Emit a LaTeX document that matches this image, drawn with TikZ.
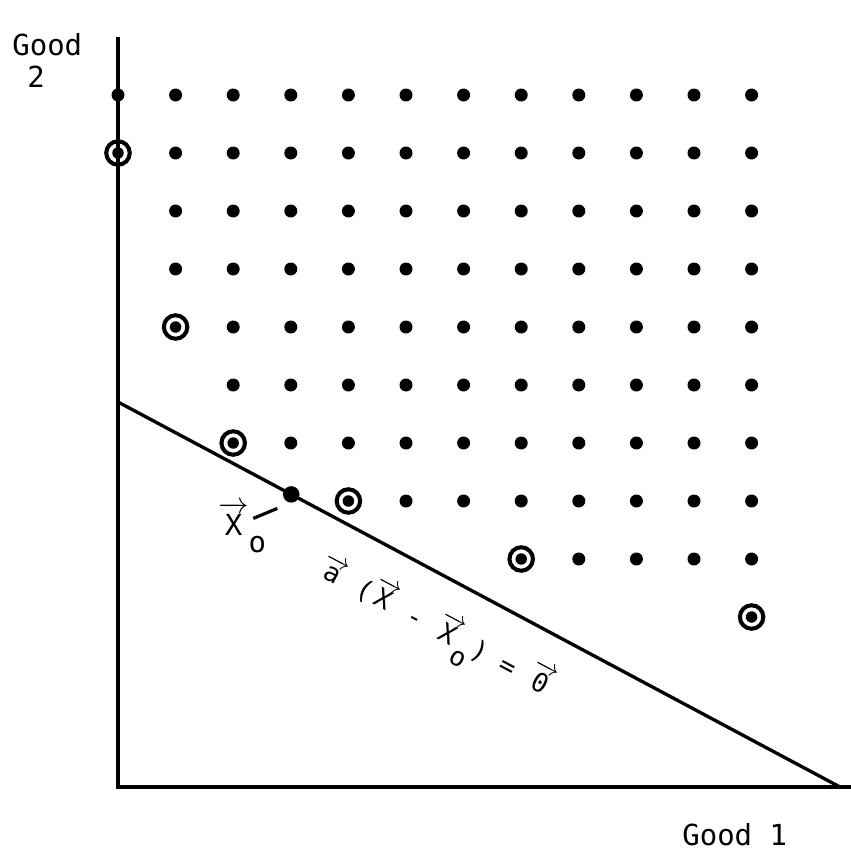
\documentclass[tikz,border=0pt]{standalone}
\usepackage{amsmath}
\usepackage{fontspec}
\setmonofont{DejaVu Sans Mono}
\usetikzlibrary{calc,positioning}
\newcommand{\tvec}[1]{\ensuremath{\overrightarrow{\hbox{\ttfamily #1}}}}

\begin{document}
\begin{tikzpicture}[x=0.02cm,y=-0.02cm,
  axis/.style={line width=2.2pt},
  budget/.style={line width=1.9pt},
  ring/.style={line width=2.3pt},
  lab/.style={font=\ttfamily\fontsize{16.5}{19}\selectfont,inner sep=0pt}]
  \useasboundingbox (0,0) rectangle (851,852);
  % axes
  \coordinate (O) at (118,787);
  \draw[axis] (118,37) -- (O) -- (851,787);
  \node[lab,anchor=base west] (good2) at (12,55) {Good};
  \node[lab,anchor=base] (two) at (36,87) {2};
  \node[lab,anchor=base west] (good1) at (682,845) {Good 1};
  % the hyperplane through x_0
  \coordinate (yint) at (118,402);
  \coordinate (xint) at (840,787);
  \draw[budget] (yint) -- (xint);
  % lattice points: row / first column
  \foreach \r/\s in {0/0,1/1,2/1,3/1,4/2,5/2,6/3,7/5,8/8}{
     \foreach \c in {\s,...,11}{
        \fill ({118+57.6*\c},{95+58*\r}) circle (0.13cm);
     }
  }
  % circled points
  \foreach \r/\c in {1/0,4/1,6/2,7/4,8/7,9/11}{
     \draw[ring] ({118+57.6*\c},{95+58*\r}) circle (0.235cm);
     \fill ({118+57.6*\c},{95+58*\r}) circle (0.115cm);
  }
  % x_0 on the line
  \node[circle,fill,inner sep=0pt,minimum size=0.33cm] (x0) at ($(yint)!0.24!(xint)$) {};
  \node[lab,anchor=base west] (x0lab) at (218,535) {\tvec{X}\raisebox{-0.6em}{o}};
  \draw[line width=1.8pt] ($(x0)+(-14,14)$) -- ($(x0)+(-38,24)$);
  \node[lab,anchor=base,rotate=-28,font=\ttfamily\fontsize{15}{18}\selectfont] (eq) at (432,636)
       {\tvec{a} (\tvec{X} - \tvec{X}\raisebox{-0.6em}{o}) = \tvec{0}};
\end{tikzpicture}
\end{document}
